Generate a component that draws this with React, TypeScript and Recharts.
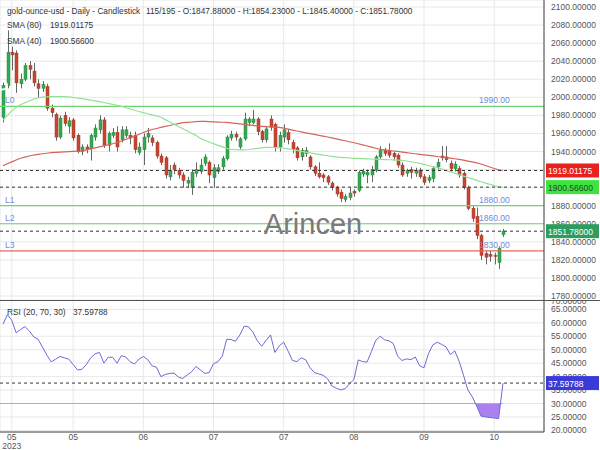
import React from "react";
import {
  Area,
  Bar,
  CartesianGrid,
  ComposedChart,
  Line,
  ReferenceLine,
  XAxis,
  YAxis,
} from "recharts";

const FONT = '"Liberation Sans", Arial, sans-serif';

// daily candles, oldest first (115 of 195 shown)
const opens = [
  1978, 2013, 2050, 2049, 2015, 2020, 2035, 2029, 2015, 2010,
  2012, 1988, 1981, 1956, 1980, 1968, 1975, 1958, 1940, 1945,
  1943, 1956, 1964, 1975, 1947, 1958, 1961, 1953, 1958, 1958,
  1958, 1939, 1942, 1956, 1955, 1950, 1935, 1933, 1912, 1925,
  1919, 1914, 1905, 1900, 1916, 1918, 1927, 1928, 1911, 1918,
  1923, 1932, 1955, 1959, 1945, 1954, 1972, 1972, 1976, 1962,
  1953, 1976, 1970, 1945, 1956, 1961, 1950, 1944, 1934, 1938,
  1934, 1923, 1916, 1914, 1912, 1905, 1900, 1895, 1887, 1889,
  1896, 1897, 1915, 1914, 1914, 1919, 1934, 1941, 1940, 1938,
  1936, 1925, 1916, 1920, 1916, 1919.5, 1912, 1908, 1910, 1923,
  1935, 1934, 1927, 1921, 1921, 1916, 1900, 1877, 1868, 1847,
  1827, 1826, 1825, 1817, 1847.88,
];
const highs = [
  2018, 2074, 2056, 2052, 2026, 2038, 2040, 2038, 2020, 2018,
  2015, 1992, 1983, 1980, 1984, 1978, 1977, 1960, 1948, 1948,
  1960, 1970, 1980, 1978, 1962, 1966, 1968, 1968, 1968, 1962,
  1962, 1950, 1960, 1966, 1958, 1952, 1938, 1935, 1925, 1928,
  1922, 1917, 1912, 1920, 1928, 1932, 1937, 1930, 1926, 1926,
  1935, 1958, 1963, 1962, 1956, 1983, 1978, 1986, 1978, 1964,
  1968, 1980, 1972, 1962, 1970, 1965, 1953, 1946, 1944, 1945,
  1936, 1925, 1928, 1916, 1914, 1907, 1902, 1898, 1893, 1900,
  1898, 1919, 1921, 1920, 1924, 1936, 1946, 1944, 1949, 1940,
  1938, 1928, 1921, 1923, 1922, 1922, 1915, 1914, 1924, 1932,
  1946, 1946, 1930, 1929, 1924, 1918, 1902, 1880, 1878, 1849,
  1830, 1830, 1828, 1835, 1854.23,
];
const lows = [
  1972, 2010, 2030, 2005, 2010, 2018, 2020, 2012, 2000, 2006,
  1985, 1978, 1952, 1954, 1968, 1960, 1952, 1938, 1936, 1938,
  1930, 1952, 1960, 1944, 1940, 1955, 1940, 1950, 1955, 1948,
  1938, 1936, 1925, 1950, 1946, 1932, 1925, 1910, 1908, 1915,
  1910, 1900, 1900, 1892, 1912, 1915, 1924, 1905, 1900, 1915,
  1920, 1930, 1952, 1952, 1942, 1952, 1968, 1970, 1958, 1950,
  1950, 1963, 1940, 1940, 1950, 1948, 1938, 1930, 1930, 1934,
  1920, 1913, 1910, 1906, 1903, 1897, 1890, 1884, 1884, 1886,
  1890, 1895, 1912, 1905, 1906, 1917, 1932, 1935, 1933, 1930,
  1922, 1912, 1912, 1910, 1912, 1910, 1903, 1905, 1906, 1920,
  1930, 1928, 1918, 1918, 1911, 1898, 1875, 1862, 1843, 1820,
  1815, 1818, 1815, 1810, 1845.4,
];
const closes = [
  2013, 2050, 2047, 2016, 2020, 2035, 2031, 2016, 2010, 2014,
  1988, 1983, 1956, 1977, 1971, 1974, 1955, 1940, 1945, 1942,
  1958, 1966, 1975, 1947, 1960, 1961, 1945, 1964, 1964, 1955,
  1942, 1945, 1956, 1960, 1950, 1935, 1928, 1914, 1919, 1920,
  1914, 1908, 1908, 1917, 1920, 1925, 1934, 1914, 1922, 1922,
  1932, 1956, 1959, 1956, 1954, 1976, 1976, 1976, 1962, 1953,
  1965, 1967, 1945, 1958, 1964, 1953, 1942, 1933, 1941, 1941,
  1923, 1916, 1912, 1911, 1906, 1900, 1893, 1888, 1890, 1894,
  1894, 1917, 1918, 1917, 1920, 1934, 1941, 1938, 1936, 1934,
  1925, 1914, 1919, 1917, 1919, 1912, 1906, 1911, 1921, 1928,
  1933, 1931, 1921, 1926, 1914, 1900, 1877, 1866, 1847, 1825,
  1823, 1824, 1824, 1833, 1851.78,
];
const sma80 = [
  1924.4, 1926.5, 1928.5, 1930.6, 1932.5, 1933.8, 1935, 1936.1, 1936.8, 1937.5,
  1938.1, 1938.7, 1939, 1939.3, 1939.6, 1939.9, 1940.2, 1940.5, 1940.8, 1941.8,
  1942.9, 1944.1, 1945.2, 1946.3, 1947.5, 1948.6, 1949.8, 1951.6, 1953.4, 1955.3,
  1957.1, 1959.1, 1961, 1962.9, 1964.4, 1965.5, 1966.7, 1967.8, 1968.8, 1969.9,
  1970.9, 1971.9, 1972.3, 1972.7, 1973.1, 1973.5, 1973.3, 1973, 1972.8, 1972.6,
  1972.4, 1972.2, 1971.8, 1971.2, 1970.7, 1970.1, 1969.5, 1968.9, 1968.3, 1967.9,
  1967.6, 1967.3, 1967.1, 1966.8, 1965.8, 1964.8, 1963.7, 1962.7, 1961.7, 1960.7,
  1959.8, 1958.9, 1957.9, 1957, 1956.1, 1955.1, 1954, 1952.9, 1951.9, 1950.8,
  1949.7, 1948.6, 1947.4, 1946.1, 1944.9, 1943.6, 1942.4, 1941.8, 1941.2, 1940.6,
  1940.1, 1939.4, 1938.8, 1938.1, 1937.5, 1936.9, 1936.3, 1935.7, 1935.1, 1934.5,
  1933.9, 1933.3, 1932.6, 1932, 1931.3, 1930.4, 1929.4, 1928.5, 1927.5, 1926.2,
  1924.5, 1922.8, 1921.2, 1919.7, 1919.01,
];
const sma40 = [
  1974.5, 1980, 1985, 1988.6, 1991.8, 1994, 1996, 1998, 1999.4, 2000.2,
  2000.5, 2000.7, 2000.7, 2000.7, 2000.7, 2000.5, 1999.8, 1999.2, 1998.5, 1997.7,
  1996.9, 1996.1, 1995.3, 1994.3, 1993.2, 1992.1, 1991.1, 1989.9, 1988.5, 1987.1,
  1985.7, 1984.3, 1983, 1981.8, 1980.6, 1979.4, 1977.9, 1975.3, 1972.7, 1970.2,
  1967.6, 1965.2, 1962.8, 1960.3, 1957.9, 1954.5, 1952.5, 1950.6, 1948.7, 1946.8,
  1945.2, 1943.6, 1942.4, 1942, 1941.8, 1941.9, 1942.2, 1942.8, 1943.4, 1944,
  1944.6, 1944.6, 1944.3, 1944, 1943.6, 1943, 1942.2, 1941.2, 1940.2, 1939.3,
  1938.5, 1937.7, 1936.9, 1936.1, 1935.3, 1934.6, 1934, 1933.6, 1933.2, 1932.8,
  1932.5, 1932.3, 1932.1, 1931.9, 1931.7, 1931.5, 1931.3, 1931.1, 1930.9, 1930.7,
  1930.5, 1930.2, 1929.5, 1928.7, 1927.8, 1926.9, 1925.7, 1924.5, 1923.3, 1922,
  1920.7, 1919.1, 1917.5, 1915.9, 1914.4, 1912.8, 1911.2, 1909.7, 1908.1, 1906.5,
  1905, 1903.6, 1902.2, 1901, 1900.57,
];
const rsi = [
  59.5, 63, 61, 56.3, 57.5, 58.6, 57, 54.8, 53.9, 51,
  48, 45.5, 46.5, 47.5, 47, 46.5, 44.5, 42.5, 42.7, 44.5,
  47, 48.5, 49, 45, 47.2, 47.2, 45, 47.8, 47.3, 45.5,
  44.7, 46.5, 47.5, 46.3, 44, 43.5, 40, 40.8, 41.2, 41.3,
  39.8, 39.3, 40.6, 41.8, 43.8, 42.5, 41.2, 41.5, 44.8, 45.5,
  47.6, 53.9, 53.8, 53.1, 55.5, 58.8, 58.5, 56.5, 53.3, 51.3,
  53.5, 55.5, 49, 51.5, 52.8, 49.5, 46, 45.6, 47, 46.3,
  43.3, 41.5, 41, 40.5, 39.2, 36.5, 35.7, 35.1, 35.5, 37.3,
  38.9, 46.2, 45.6, 45.4, 49.3, 53.5, 55, 53.7, 53.3, 52.3,
  47.5, 46, 46.6, 46.3, 47.3, 44, 43.3, 48.5, 51.8, 52.8,
  52, 51.1, 48.2, 49.6, 45.7, 40.5, 35, 32.5, 29, 25.3,
  25, 24.8, 24.6, 24.4, 37.59788,
];

const timeTicks = [2, 16, 32, 48, 64, 80, 96, 112];
const timeLabels = ["05", "05", "06", "07", "07", "08", "09", "10"];
const priceTicks = [1780, 1800, 1820, 1840, 1860, 1880, 1900, 1920, 1940, 1960, 1980, 2000, 2020, 2040, 2060, 2080, 2100];
const rsiTicks = [20, 25, 30, 35, 40, 45, 50, 55, 60, 65];

const levels = [
  { name: "L0", value: 1990, color: "#6fd36f" },
  { name: "L1", value: 1880, color: "#6fd36f" },
  { name: "L2", value: 1860, color: "#6fd36f" },
  { name: "L3", value: 1830, color: "#e06a5c" },
];
const SMA80_LAST = 1919.01175;
const SMA40_LAST = 1900.566;
const LAST_CLOSE = 1851.78;
const RSI_LAST = 37.59788;
const RSI_LOW = 30;

const X_DOMAIN = [-0.68, 123.35];
const PRICE_DOMAIN = [1775.6, 2107.75];
const RSI_DOMAIN = [19.4, 68.5];

const rows = opens.map((o, i) => ({
  i,
  open: o,
  high: highs[i],
  low: lows[i],
  close: closes[i],
  range: [lows[i], highs[i]],
  sma80: sma80[i],
  sma40: sma40[i],
}));

// rsi rows, with the points where the line crosses 30 added for the fill
const rsiRows: any[] = [];
rsi.forEach((v, i) => {
  if (i > 0) {
    const p = rsi[i - 1];
    if ((p - RSI_LOW) * (v - RSI_LOW) < 0) {
      const t = (p - RSI_LOW) / (p - v);
      rsiRows.push({ i: i - 1 + t, rsi: RSI_LOW, band: [RSI_LOW, RSI_LOW] });
    }
  }
  rsiRows.push({ i, rsi: v, band: v <= RSI_LOW ? [v, RSI_LOW] : null });
});

function Candle(props: any) {
  const { x, y, width, height, payload } = props;
  if (x == null || y == null) return null;
  const { open, close, high, low } = payload;
  const cx = Math.round(x + width / 2) + 0.5;
  const toY = (v: number) => y + ((high - v) / (high - low)) * height;
  const up = close >= open;
  const top = toY(Math.max(open, close));
  const bot = toY(Math.min(open, close));
  return (
    <g>
      <line x1={cx} x2={cx} y1={toY(high)} y2={toY(low)} stroke="#666" strokeWidth={1} />
      <rect
        x={cx - 1.5}
        y={top}
        width={3}
        height={Math.max(1, bot - top)}
        fill={up ? "#35a852" : "#c8442f"}
        stroke={up ? "#2a8a42" : "#a53626"}
        strokeWidth={0.5}
      />
    </g>
  );
}

function PriceTick({ x, y, payload }: any) {
  return (
    <text x={x + 7} y={y} dominantBaseline="central" fontSize={8.5} fill="#555" fontFamily={FONT}>
      {Number(payload.value).toFixed(5)}
    </text>
  );
}

function TimeTick({ x, y, payload }: any) {
  const k = timeTicks.indexOf(payload.value);
  return (
    <g fontSize={8.5} fill="#555" fontFamily={FONT}>
      <text x={x} y={y + 5} textAnchor="middle" dominantBaseline="central">
        {timeLabels[k]}
      </text>
      {k === 0 && (
        <text x={x} y={y + 14} textAnchor="middle" dominantBaseline="central">
          2023
        </text>
      )}
    </g>
  );
}

function LevelLabel({ viewBox, name, text }: any) {
  const { x, y, width } = viewBox;
  return (
    <g fontSize={8.5} fill="#6b8ed6" fontFamily={FONT}>
      <text x={x + 5} y={y - 3}>{name}</text>
      <text x={x + width - 65} y={y - 3}>{text}</text>
    </g>
  );
}

function Badge({ viewBox, text, bg, fg }: any) {
  const { x, y, width } = viewBox;
  const bx = x + width + 2;
  return (
    <g>
      <rect x={bx} y={y - 7} width={53} height={14} fill={bg} />
      <text x={bx + 2} y={y + 0.5} dominantBaseline="central" fontSize={8.5} fill={fg} fontFamily={FONT}>
        {text}
      </text>
    </g>
  );
}

const txt: React.CSSProperties = {
  position: "absolute",
  fontFamily: FONT,
  fontSize: 8.3,
  lineHeight: "10px",
  color: "#333",
  whiteSpace: "nowrap",
};

const layer: React.CSSProperties = { position: "absolute", left: 0 };

export default function App() {
  return (
    <div style={{ position: "absolute", left: 0, top: 0, width: 600, height: 450, background: "#fff", overflow: "hidden" }}>
      {/* price panel */}
      <div style={{ ...layer, top: 0 }}>
        <ComposedChart width={600} height={300} data={rows} margin={{ top: 0, right: 0, bottom: 0, left: 0 }}>
          <CartesianGrid stroke="#e8e8e8" />
          <XAxis dataKey="i" type="number" domain={X_DOMAIN} ticks={timeTicks} hide />
          <YAxis
            orientation="right"
            width={56}
            domain={PRICE_DOMAIN}
            ticks={priceTicks}
            interval={0}
            tick={<PriceTick />}
            tickLine={false}
            tickSize={0}
            tickMargin={0}
            axisLine={{ stroke: "#444" }}
          />
          {levels.map((l) => (
            <ReferenceLine
              key={l.name}
              y={l.value}
              stroke={l.color}
              strokeWidth={1.2}
              label={<LevelLabel name={l.name} text={l.value.toFixed(2)} />}
            />
          ))}
          <Line dataKey="sma80" stroke="#d6645a" strokeWidth={1.2} dot={false} isAnimationActive={false} />
          <Line dataKey="sma40" stroke="#93e293" strokeWidth={1.2} dot={false} isAnimationActive={false} />
          <Bar dataKey="range" barSize={3} shape={<Candle />} isAnimationActive={false} />
        </ComposedChart>
      </div>
      {/* last-value markers, drawn over the price axis labels */}
      <div style={{ ...layer, top: 0 }}>
        <ComposedChart width={600} height={300} data={rows} margin={{ top: 0, right: 56, bottom: 0, left: 0 }}>
          <XAxis dataKey="i" type="number" domain={X_DOMAIN} hide />
          <YAxis domain={PRICE_DOMAIN} hide />
          <Line dataKey="close" stroke="none" dot={false} isAnimationActive={false} />
          <ReferenceLine
            y={SMA80_LAST}
            stroke="#333"
            strokeDasharray="3 3"
            label={<Badge text={SMA80_LAST.toFixed(5)} bg="#e8201e" fg="#fff" />}
          />
          <ReferenceLine
            y={SMA40_LAST}
            stroke="#333"
            strokeDasharray="3 3"
            label={<Badge text={SMA40_LAST.toFixed(5)} bg="#3fe33f" fg="#14501a" />}
          />
          <ReferenceLine
            y={LAST_CLOSE}
            stroke="#333"
            strokeDasharray="3 3"
            label={<Badge text={LAST_CLOSE.toFixed(5)} bg="#2e9c5e" fg="#fff" />}
          />
        </ComposedChart>
      </div>

      {/* RSI panel */}
      <div style={{ ...layer, top: 300 }}>
        <ComposedChart width={600} height={150} data={rsiRows} margin={{ top: 0, right: 0, bottom: 0, left: 0 }}>
          <CartesianGrid stroke="#e8e8e8" />
          <XAxis
            dataKey="i"
            type="number"
            domain={X_DOMAIN}
            ticks={timeTicks}
            interval={0}
            height={18}
            tick={<TimeTick />}
            tickLine={false}
            tickSize={0}
            tickMargin={0}
            axisLine={{ stroke: "#444" }}
          />
          <YAxis
            orientation="right"
            width={56}
            domain={RSI_DOMAIN}
            ticks={rsiTicks}
            interval={0}
            tick={<PriceTick />}
            tickLine={false}
            tickSize={0}
            tickMargin={0}
            axisLine={{ stroke: "#444" }}
          />
          <Area dataKey="band" stroke="none" fill="#a679ee" fillOpacity={0.95} isAnimationActive={false} />
          <ReferenceLine
            segment={[{ x: X_DOMAIN[0], y: RSI_LOW }, { x: rsi.length - 1, y: RSI_LOW }]}
            stroke="#b7a0ea"
            strokeWidth={1.2}
          />
          <Line dataKey="rsi" stroke="#6b6bd8" strokeWidth={1} dot={false} isAnimationActive={false} />
        </ComposedChart>
      </div>
      <div style={{ ...layer, top: 300 }}>
        <ComposedChart width={600} height={150} data={rsiRows} margin={{ top: 0, right: 56, bottom: 18, left: 0 }}>
          <XAxis dataKey="i" type="number" domain={X_DOMAIN} hide />
          <YAxis domain={RSI_DOMAIN} hide />
          <Line dataKey="rsi" stroke="none" dot={false} isAnimationActive={false} />
          <ReferenceLine
            y={RSI_LAST}
            stroke="#333"
            strokeDasharray="3 3"
            label={<Badge text={RSI_LAST.toFixed(5)} bg="#3a3ad8" fg="#fff" />}
          />
        </ComposedChart>
      </div>

      <div style={{ ...layer, top: 300, width: 600, height: 1, background: "#555" }} />
      <div style={{ position: "absolute", left: 551, top: 301, width: 49, height: 6, overflow: "hidden" }}>
        <div style={{ ...txt, top: -5, left: 0, fontSize: 8.5, color: "#555" }}>70.00000</div>
      </div>

      <div style={{ ...txt, left: 7, top: 6 }}>gold-ounce-usd - Daily - Candlestick</div>
      <div style={{ ...txt, left: 146, top: 6 }}>
        115/195 - O:1847.88000 - H:1854.23000 - L:1845.40000 - C:1851.78000
      </div>
      <div style={{ ...txt, left: 7, top: 20 }}>SMA (80)</div>
      <div style={{ ...txt, left: 50, top: 20 }}>1919.01175</div>
      <div style={{ ...txt, left: 7, top: 36 }}>SMA (40)</div>
      <div style={{ ...txt, left: 50, top: 36 }}>1900.56600</div>
      <div style={{ ...txt, left: 7, top: 307 }}>RSI (20, 70, 30)</div>
      <div style={{ ...txt, left: 73, top: 307 }}>37.59788</div>

      <div
        style={{
          position: "absolute",
          left: 213,
          top: 207,
          width: 200,
          textAlign: "center",
          fontFamily: FONT,
          fontSize: 29,
          lineHeight: "34px",
          color: "#7a7a7a",
        }}
      >
        Arincen
      </div>
    </div>
  );
}
